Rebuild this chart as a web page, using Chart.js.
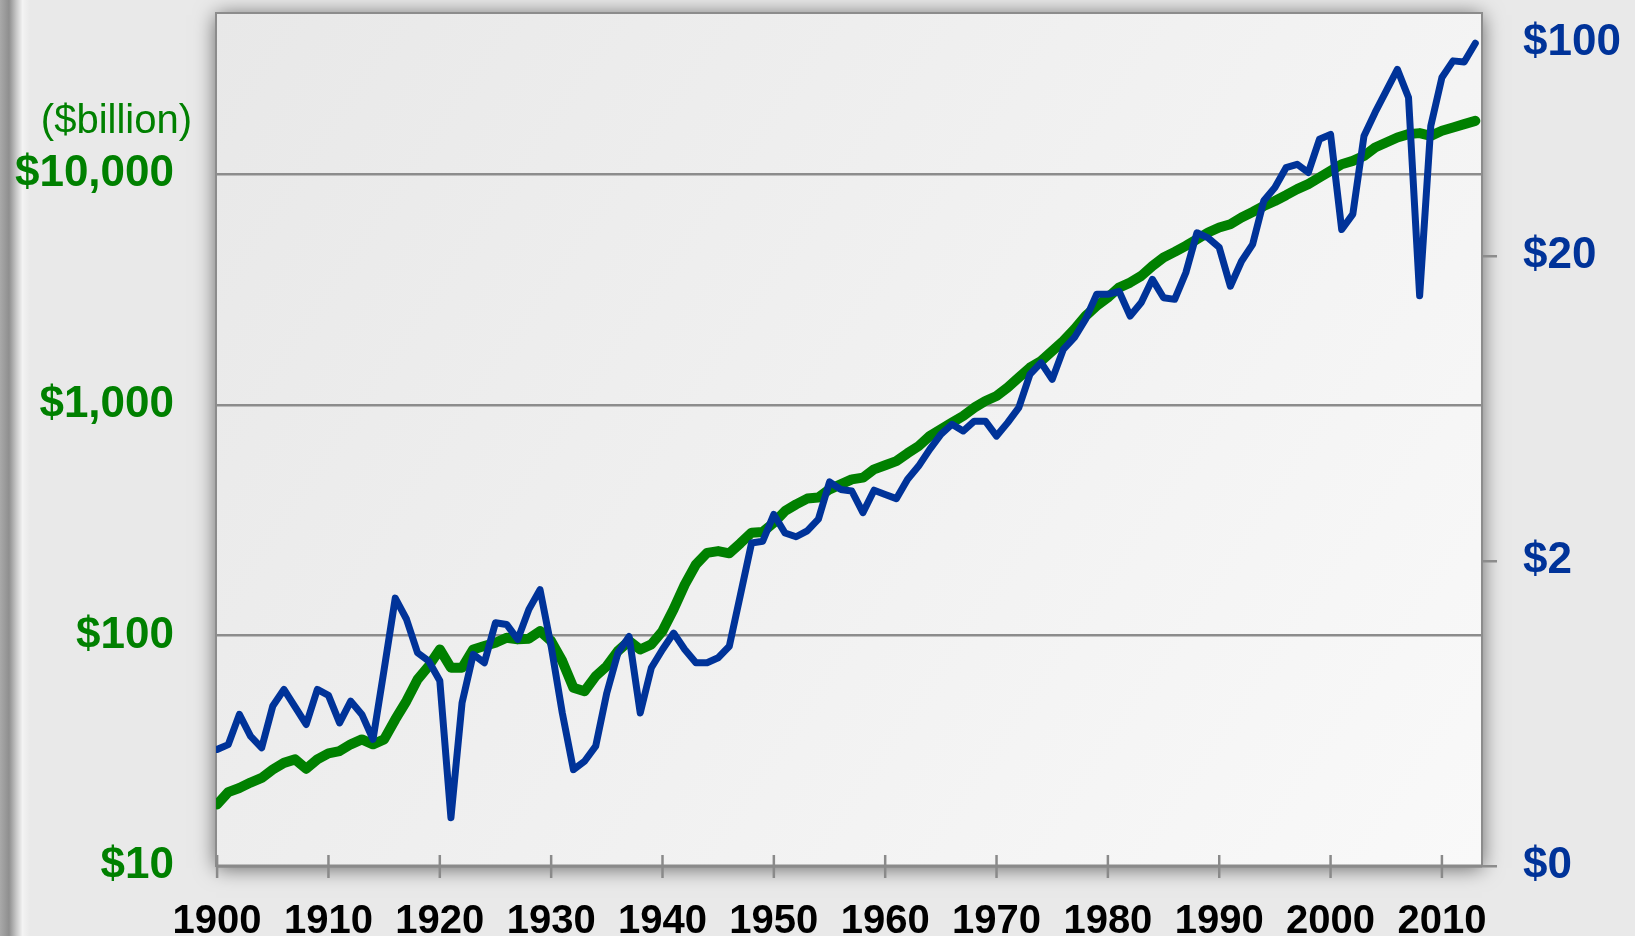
<!DOCTYPE html>
<html>
<head>
<meta charset="utf-8">
<script src="https://cdn.jsdelivr.net/npm/chart.js@4.4.1/dist/chart.umd.min.js"></script>
<style>
  html, body { margin: 0; padding: 0; background: #e9e9e9; }
  canvas { display: block; }
</style>
</head>
<body>
<canvas id="chartCanvas" width="1635" height="936"></canvas>
<script>
var years = [
  1900, 1901, 1902, 1903, 1904, 1905, 1906, 1907, 1908, 1909,
  1910, 1911, 1912, 1913, 1914, 1915, 1916, 1917, 1918, 1919,
  1920, 1921, 1922, 1923, 1924, 1925, 1926, 1927, 1928, 1929,
  1930, 1931, 1932, 1933, 1934, 1935, 1936, 1937, 1938, 1939,
  1940, 1941, 1942, 1943, 1944, 1945, 1946, 1947, 1948, 1949,
  1950, 1951, 1952, 1953, 1954, 1955, 1956, 1957, 1958, 1959,
  1960, 1961, 1962, 1963, 1964, 1965, 1966, 1967, 1968, 1969,
  1970, 1971, 1972, 1973, 1974, 1975, 1976, 1977, 1978, 1979,
  1980, 1981, 1982, 1983, 1984, 1985, 1986, 1987, 1988, 1989,
  1990, 1991, 1992, 1993, 1994, 1995, 1996, 1997, 1998, 1999,
  2000, 2001, 2002, 2003, 2004, 2005, 2006, 2007, 2008, 2009,
  2010, 2011, 2012, 2013
];

// GDP, $billion (left axis, green)
var gdp = [
  18.5, 20.9, 21.8, 23.0, 24.1, 26.2, 28.0, 29.0, 26.4, 29.0,
  30.8, 31.5, 33.7, 35.4, 33.7, 35.4, 43.2, 51.9, 64.4, 73.6,
  86.9, 72.4, 72.4, 86.9, 89.9, 92.9, 97.7, 96.1, 96.8, 104.4,
  94.5, 77.4, 59.3, 57.3, 66.6, 73.6, 85.5, 94.5, 86.9, 91.4,
  104.4, 130, 166, 203, 228, 232, 227, 251, 279, 281,
  308, 346, 370, 392, 396, 430, 452, 475, 483, 525,
  547, 570, 616, 662, 732, 783, 837, 894, 972, 1039,
  1092, 1188, 1312, 1449, 1549, 1711, 1890, 2127, 2428, 2685,
  2919, 3223, 3388, 3622, 4000, 4355, 4603, 4887, 5224, 5585,
  5870, 6067, 6486, 6855, 7278, 7656, 8106, 8610, 9057, 9683,
  10330, 11047, 11420, 12000, 13060, 13730, 14430, 14920, 15070, 14660,
  15420, 15950, 16490, 17030
];

// earnings per share, $ (right axis, blue)
var earnings = [
  0.482, 0.50, 0.628, 0.533, 0.488, 0.669, 0.758, 0.665, 0.582, 0.758,
  0.725, 0.589, 0.694, 0.628, 0.52, 0.881, 1.51, 1.29, 1.0, 0.94,
  0.81, 0.288, 0.686, 0.988, 0.927, 1.254, 1.238, 1.106, 1.387, 1.61,
  1.05, 0.635, 0.414, 0.441, 0.494, 0.739, 1.0, 1.13, 0.635, 0.893,
  1.025, 1.16, 1.025, 0.927, 0.927, 0.963, 1.05, 1.55, 2.29, 2.32,
  2.84, 2.47, 2.40, 2.51, 2.74, 3.63, 3.43, 3.39, 2.88, 3.41,
  3.30, 3.20, 3.70, 4.09, 4.64, 5.20, 5.61, 5.33, 5.74, 5.74,
  5.13, 5.68, 6.36, 8.17, 8.93, 7.87, 9.87, 10.8, 12.4, 14.96,
  14.96, 15.3, 12.7, 14.06, 16.75, 14.58, 14.4, 17.6, 23.8, 22.9,
  21.3, 15.9, 19.2, 21.8, 30.3, 33.5, 38.9, 39.9, 37.5, 48.2,
  50.0, 24.4, 27.4, 49.4, 59.0, 69.4, 81.7, 66.1, 14.8, 53.3,
  76.8, 87.1, 86.4, 99.5
];

var xTicks = [1900, 1910, 1920, 1930, 1940, 1950, 1960, 1970, 1980, 1990, 2000, 2010];
var leftTicks = [10, 100, 1000, 10000];
var leftLabels = ["$10", "$100", "$1,000", "$10,000"];
var rightTicks = [0.2, 2, 20, 100];
var rightLabels = ["$0", "$2", "$20", "$100"];

var gdpPoints = years.map(function (y, i) { return { x: y, y: gdp[i] }; });
var earningsPoints = years.map(function (y, i) { return { x: y, y: earnings[i] }; });

var fontFamily = "'Liberation Sans', Arial, sans-serif";

var framePlugin = {
  id: "frame",
  beforeDraw: function (chart) {
    var ctx = chart.ctx;
    var a = chart.chartArea;
    ctx.save();
    ctx.fillStyle = "#e9e9e9";
    ctx.fillRect(0, 0, chart.width, chart.height);

    // slide edge on the left
    var band = ctx.createLinearGradient(0, 0, 30, 0);
    band.addColorStop(0, "#a9a9a9");
    band.addColorStop(0.3, "#8f8f8f");
    band.addColorStop(0.55, "#c9c9c9");
    band.addColorStop(0.75, "#f3f3f3");
    band.addColorStop(1, "#e9e9e9");
    ctx.fillStyle = band;
    ctx.fillRect(0, 0, 30, chart.height);

    // plot box with drop shadow
    ctx.shadowColor = "rgba(0,0,0,0.6)";
    ctx.shadowBlur = 20;
    ctx.shadowOffsetX = 0;
    ctx.shadowOffsetY = 2;
    var fill = ctx.createLinearGradient(a.left, a.top, a.right, a.bottom);
    fill.addColorStop(0, "#e8e8e8");
    fill.addColorStop(1, "#f9f9f9");
    ctx.fillStyle = fill;
    ctx.fillRect(a.left, a.top, a.right - a.left, a.bottom - a.top);
    ctx.shadowColor = "transparent";
    ctx.strokeStyle = "#8c8c8c";
    ctx.lineWidth = 2;
    ctx.strokeRect(a.left, a.top, a.right - a.left, a.bottom - a.top);
    ctx.restore();
  },
  afterDraw: function (chart) {
    var ctx = chart.ctx;
    var a = chart.chartArea;
    var xScale = chart.scales.x;
    ctx.save();
    // bottom axis line and crossing tick marks
    ctx.strokeStyle = "#8a8a8a";
    ctx.lineWidth = 3;
    ctx.beginPath();
    ctx.moveTo(a.left, a.bottom);
    ctx.lineTo(a.right, a.bottom);
    ctx.stroke();
    ctx.lineWidth = 2.5;
    xScale.ticks.forEach(function (t) {
      var px = xScale.getPixelForValue(t.value);
      ctx.beginPath();
      ctx.moveTo(px, a.bottom - 11);
      ctx.lineTo(px, a.bottom + 12);
      ctx.stroke();
    });
    // unit note above the left axis
    ctx.fillStyle = "#008000";
    ctx.font = "40px " + fontFamily;
    ctx.textAlign = "right";
    ctx.textBaseline = "middle";
    ctx.fillText("($billion)", 192, 122);
    ctx.restore();
  }
};

function noVerticalPadding(scale) {
  scale.paddingTop = 0;
  scale.paddingBottom = 0;
}

var ctx = document.getElementById("chartCanvas").getContext("2d");

var gdpChart = new Chart(ctx, {
  type: "line",
  data: {
    datasets: [
      {
        label: "Earnings",
        data: earningsPoints,
        yAxisID: "y2",
        borderColor: "#003399",
        borderWidth: 7,
        pointRadius: 0,
        tension: 0,
        borderJoinStyle: "round",
        borderCapStyle: "round",
        order: 1,
      },
      {
        label: "GDP",
        data: gdpPoints,
        yAxisID: "y",
        borderColor: "#008000",
        borderWidth: 10,
        pointRadius: 0,
        tension: 0,
        borderJoinStyle: "round",
        borderCapStyle: "round",
        order: 2,
      },
    ],
  },
  options: {
    responsive: false,
    animation: false,
    devicePixelRatio: 1,
    layout: { padding: { top: 13, left: 0, right: 0, bottom: 0 } },
    plugins: {
      legend: { display: false },
      title: { display: false },
      tooltip: { enabled: false },
    },
    scales: {
      x: {
        type: "linear",
        min: 1899.9,
        max: 2013.6,
        afterBuildTicks: function (scale) {
          scale.ticks = xTicks.map(function (v) { return { value: v }; });
        },
        afterFit: function (scale) {
          scale.height = 70;
          scale.paddingLeft = 0;
          scale.paddingRight = 0;
        },
        grid: { display: false },
        border: { display: false },
        ticks: {
          autoSkip: false,
          maxRotation: 0,
          padding: 24,
          color: "#000000",
          font: { family: fontFamily, size: 40, weight: "bold" },
          callback: function (value) { return String(value); },
        },
      },
      y: {
        type: "logarithmic",
        position: "left",
        min: 10,
        max: 50000,
        afterBuildTicks: function (scale) {
          scale.ticks = leftTicks.map(function (v) { return { value: v }; });
        },
        afterFit: function (scale) {
          scale.width = 216;
          noVerticalPadding(scale);
        },
        grid: { color: "#8c8c8c", lineWidth: 2.5, drawTicks: false },
        border: { display: false },
        ticks: {
          padding: 42,
          color: "#008000",
          font: { family: fontFamily, size: 44, weight: "bold" },
          callback: function (value, index) { return leftLabels[index]; },
        },
      },
      y2: {
        type: "logarithmic",
        position: "right",
        min: 0.2,
        max: 125,
        afterBuildTicks: function (scale) {
          scale.ticks = rightTicks.map(function (v) { return { value: v }; });
        },
        afterFit: function (scale) {
          scale.width = 153;
          noVerticalPadding(scale);
        },
        grid: {
          drawOnChartArea: false,
          color: function (c) {
            return c.tick && c.tick.value === 100 ? "rgba(0,0,0,0)" : "#8c8c8c";
          },
          lineWidth: 2.5,
          tickLength: 15,
        },
        border: { display: false },
        ticks: {
          padding: 26,
          color: "#003399",
          font: { family: fontFamily, size: 44, weight: "bold" },
          callback: function (value, index) { return rightLabels[index]; },
        },
      },
    },
  },
  plugins: [framePlugin],
});
</script>
</body>
</html>
